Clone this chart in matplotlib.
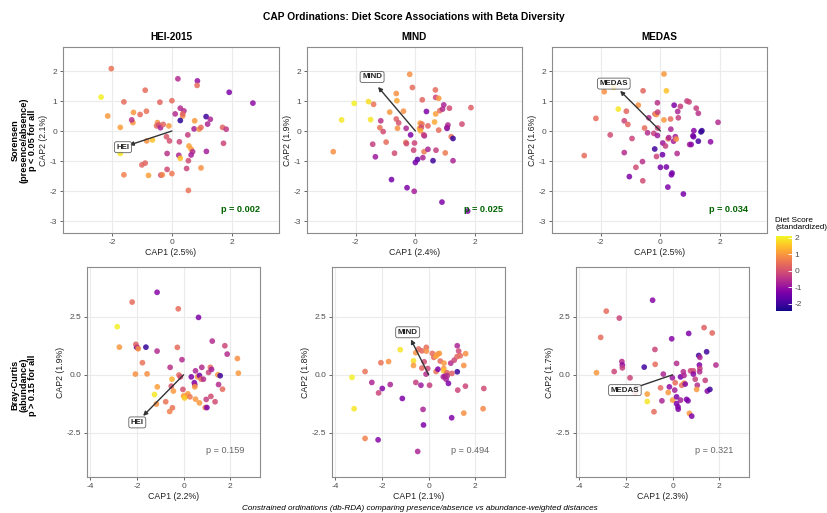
import matplotlib
matplotlib.use("Agg")
import matplotlib.pyplot as plt
from matplotlib.colors import Normalize
from matplotlib.cm import ScalarMappable

plt.rcParams['font.family'] = ['Liberation Sans', 'DejaVu Sans']
plt.rcParams['axes.unicode_minus'] = False

# ---- Sorensen (presence/absence) ----
sor_hei_x = [-2.02, -2.36, -2.14, -1.72, -1.72, -1.6, -1.28, -1.3, -1.34, -0.89, -0.85, -1.06, -0.84, -0.65,
             -1.6, -1.0, -0.89, -0.78, -0.4, -0.48, -0.51, -0.44, -0.38, -0.29, -0.1, -0.18, -0.08, 0.0,
             -0.16, -0.16, -0.37, -0.32, 0.0, 0.2, 0.11, 0.28, 0.4, 0.36, 0.36, 0.28, 0.76, 0.85, 0.84,
             0.25, 0.23, 0.28, 0.53, 0.57, 0.64, 0.69, 0.64, 0.55, 0.49, 0.55, 0.97, 0.74, 0.91, 0.97,
             1.14, 1.19, 1.28, 1.15, 1.69, 1.81, 1.72, 1.91, 2.7]
sor_hei_y = [2.08, 1.13, 0.5, 0.12, -0.75, 0.97, 0.62, 0.28, 0.37, 1.36, 0.66, 0.55, -0.33, -0.3,
             -1.46, -1.13, -1.07, -1.48, 0.96, 0.28, 0.17, 0.2, 0.11, 0.22, 0.17, -0.19, -0.33, 1.01,
             -0.75, -1.28, -1.47, -1.46, -1.42, 1.74, 0.57, 0.76, 0.67, 0.5, 0.57, 0.35, 0.34, 1.67, 1.52,
             -0.36, -0.81, -0.91, -0.13, -0.5, -0.6, -0.69, -0.8, -0.99, -1.25, -1.98, -1.23, 0.07, 0.06, 0.12,
             0.48, 0.23, 0.39, -0.68, 0.12, 0.06, -0.41, 1.29, 0.93]
sor_hei_score = [0.5, 2.0, 1.0, 1.1, 1.9, 0.4, 1.0, 1.0, -0.5, 0.4, 0.5, 0.4, 0.9, 1.5,
                 0.7, 0.3, 0.3, 1.1, 0.3, 0.9, 0.4, 0.0, -0.7, 0.3, 1.0, 0.1, 0.0, 0.4,
                 -0.5, -0.1, -0.1, 0.8, 0.6, -0.6, -0.6, -0.6, -0.6, 0.9, 0.3, -2.2, 1.0, -1.0, 0.4,
                 -0.2, -0.7, 1.5, -0.3, 1.1, 1.1, -0.6, -0.8, -0.1, -0.2, 0.5, 0.9, -0.8, 0.9, 0.4,
                 -2.0, -0.7, -0.7, -0.8, 0.3, -0.4, -0.2, -1.3, -1.1]

sor_mind_x = [-2.75, -2.47, -2.05, -1.57, -1.5, -1.4, -1.16, -1.19, -1.08, -1.43, -1.34, -0.98, -0.86, -0.64,
              -0.62, -0.64, -0.56, -0.6, -0.7, -0.4, -0.31, -0.32, -0.3, -0.1, -0.19, -0.16, -0.03, -0.06,
              0.07, 0.0, -0.8, -0.28, -0.04, 0.16, 0.14, 0.22, 0.2, 0.17, 0.3, 0.28, 0.23, 0.37, 0.42,
              0.29, 0.42, 0.25, 0.59, 0.67, 0.68, 0.78, 0.68, 0.64, 0.78, 0.69, 0.82, 0.91, 0.95, 1.14,
              1.09, 1.06, 1.06, 1.0, 1.2, 1.26, 1.26, 1.56, 1.86, 0.89, 1.75]
sor_mind_y = [-0.69, 0.37, 0.92, 0.98, 0.38, 0.89, 0.34, 0.11, -0.02, -0.44, -0.86, -0.37, 0.63, 1.25,
              1.01, 0.4, 0.27, 0.09, -0.74, 0.66, 0.09, -0.38, -0.42, 1.45, 1.89, -0.13, -0.4, -0.64,
              -0.95, -1.05, -1.62, -1.89, -2.01, 0.26, 0.09, 0.23, 0.12, 0.01, -0.16, -0.13, 1.04, 0.65, 0.17,
              -0.69, -0.61, -0.89, -0.99, 1.37, 1.12, 1.09, 0.57, 0.3, 0.03, -0.64, 0.68, 0.73, 0.87, 0.76,
              0.2, 0.09, 0.12, -0.73, -0.19, -0.25, -0.99, 0.23, 0.78, -2.37, -2.67]
sor_mind_score = [0.9, 1.9, 2.0, 1.8, 1.9, 0.5, -0.5, 0.5, -0.1, -0.3, -0.9, 0.4, 1.0, 0.9,
                  1.2, 0.2, 0.0, 0.9, -0.1, 0.9, -0.7, 0.6, -0.1, 0.4, 0.9, -1.3, -0.2, -0.2,
                  -1.7, -1.4, -1.4, -1.3, -0.8, 1.0, 1.1, 0.5, -0.1, 1.2, -0.7, -0.3, 0.3, -1.3, 0.3,
                  0.6, -0.7, -0.7, -2.0, 0.4, -0.2, 1.0, 1.1, 1.2, 0.4, -0.3, 0.4, -0.6, -0.7, -0.1,
                  -0.6, -1.6, -0.8, 0.6, 0.5, -2.1, -0.7, -0.1, 0.2, -1.3, -1.3]

sor_medas_x = [-2.55, -2.16, -1.88, -1.56, -1.41, -1.68, -1.21, -1.14, -1.09, -0.95, -1.21, -0.82, -1.04, -0.59,
               -0.6, -0.58, -0.74, -0.39, -0.53, -0.43, -0.22, -0.1, -0.18, -0.13, -0.09, -0.09, -0.1, -0.19,
               -0.13, 0.0, 0.07, 0.12, 0.2, 0.12, 0.08, 0.17, 0.26, 0.28, 0.34, 0.35, 0.2, 0.39, 0.37,
               0.25, 0.46, 0.44, 0.5, 0.53, 0.58, 0.6, 0.56, 0.67, 0.77, 0.89, 0.96, 0.98, 1.03, 1.09,
               1.12, 1.2, 1.27, 1.27, 1.36, 1.39, 1.68, 1.93, 1.11]
sor_medas_y = [-0.82, 0.42, 1.31, 1.46, 0.73, -0.13, 0.34, 0.66, 0.22, -0.25, -0.72, -1.21, -1.52, -1.66,
               -1.02, 1.34, 0.86, 0.44, 0.1, -0.06, -0.08, 0.94, 0.57, 0.55, 0.63, 0.1, -0.15, -0.6,
               -0.85, -1.21, -0.79, 1.9, 1.34, 0.37, -0.4, -0.5, -0.26, -0.22, 0.4, 0.06, -1.2, -1.4, -1.46,
               -1.87, 0.86, -0.34, -0.19, -0.27, 0.65, 0.44, -0.75, 0.82, -2.1, 1.0, 0.97, -0.45, -0.45, -0.16,
               0.01, 0.76, 0.59, -0.34, -0.03, 0.01, -0.36, 0.29, -0.19]
sor_medas_score = [0.4, 0.4, 0.9, 1.6, 1.9, -0.1, -0.2, 0.3, 0.3, -0.2, -0.6, -0.1, -1.3, -0.1,
                   -0.5, 0.3, 0.9, -0.6, 0.4, -0.6, -0.3, -0.5, 0.3, 0.9, -0.3, -0.2, -0.9, -2.0,
                   -0.2, -1.4, -1.5, 1.0, 1.5, 1.0, -0.9, -0.3, 0.4, -0.7, 0.4, -0.7, -1.4, -1.4, -1.4,
                   -1.3, -1.3, -0.8, -0.8, 0.9, -0.7, -0.3, -0.6, -0.3, -1.4, -0.3, -0.2, -0.7, -1.2, -1.3,
                   -1.2, -0.3, -0.5, -1.9, -2.2, -2.1, -1.1, -0.6, -1.5]

# ---- Bray-Curtis (abundance) ----
bc_hei_x = [-1.14, -2.21, -0.23, 0.64, -2.85, -2.76, -2.02, -1.62, -2.05, -1.98, -1.95, -1.14, -1.77, -2.07,
            -1.57, -1.13, -1.25, -1.17, -0.27, -0.07, -0.58, -0.2, -0.14, -0.5, -0.53, -0.44, -0.77, -0.48,
            -0.6, -0.03, 0.0, 0.11, 0.04, 0.18, 0.27, 0.33, 0.51, 0.46, 0.48, 0.48, 0.6, 0.68, 0.78,
            0.75, 0.85, 0.51, 0.68, 0.93, 1.0, 0.97, 1.07, 1.15, 1.2, 1.23, 1.17, 1.35, 1.47, 1.57,
            1.5, 1.67, 1.77, 1.87, 2.31, 2.35]
bc_hei_y = [3.55, 3.13, 2.84, 2.47, 2.07, 1.19, 1.19, 1.19, 1.31, 1.16, 1.12, 1.02, 0.52, 0.03,
            0.04, -0.52, -0.85, -1.26, 1.18, 0.65, 0.32, -0.01, -0.09, -0.19, -0.49, -0.7, -1.16, -1.42,
            -1.58, -0.63, -0.91, -0.92, -1.0, -0.82, -0.95, -0.09, 0.17, -0.34, -0.43, -0.52, -0.09, -0.03, 0.32,
            -0.19, -0.19, -1.05, -1.21, -1.41, -1.41, -1.06, 0.1, 0.32, 0.23, 1.45, -0.93, -1.16, 0.0, -0.04,
            -0.42, -0.62, 1.25, 0.89, 0.7, 0.07]
bc_hei_score = [-1.2, 0.4, 0.4, -1.3, 2.0, 1.0, -2.0, -2.1, 0.2, -0.5, 0.9, -0.6, 0.5, 0.9,
                0.9, 1.1, 1.9, 0.9, 0.4, -0.6, -0.5, 0.4, -0.1, 1.3, 0.0, 1.0, 0.5, 0.5,
                0.7, 0.0, 1.0, 1.3, 1.6, 1.0, 0.6, -1.3, -0.7, -1.3, -0.8, 1.0, 1.0, -1.4, -0.6,
                0.5, -0.6, 1.0, 1.0, 0.5, -1.3, -0.3, -0.2, 0.4, -0.8, -0.6, -0.1, -0.1, 1.0, -2.0,
                -0.6, 0.4, -0.2, -0.6, 0.9, 1.0]

bc_mind_x = [-3.29, -3.2, -2.73, -2.73, -2.44, -2.15, -2.17, -2.05, -1.99, -1.72, -1.65, -1.22, -1.13, -0.65,
             -0.65, -0.55, -0.43, -0.29, -0.55, -0.33, -0.29, -0.19, -0.1, -0.1, -0.04, -0.11, 0.04, -0.24,
             -0.22, -0.47, 0.16, 0.22, 0.32, 0.39, 0.46, 0.32, 0.4, 0.5, 0.66, 0.65, 0.65, 0.7, 0.75,
             0.79, 0.8, 0.85, 0.95, 1.1, 1.23, 1.29, 1.22, 1.36, 1.59, 1.51, 1.23, 1.25, 1.58, 0.99,
             1.51, 2.34, 2.37, 0.63, 1.0]
bc_mind_y = [-0.11, -1.46, 0.14, -2.74, -0.33, -0.78, -2.8, 0.52, -0.59, 0.57, -0.42, 1.08, -1.02, 0.6,
             0.4, 0.95, 1.11, 1.03, -0.33, -0.45, 0.29, 0.56, 1.18, 1.02, 0.27, 0.03, -0.45, -1.49,
             -2.16, -3.3, 0.92, 0.75, 0.8, 0.89, 0.92, 0.14, 0.24, 0.59, 0.5, 0.27, 0.17, -0.06, -0.19,
             0.09, -0.04, -0.37, 0.5, 0.63, 1.25, 1.02, 0.78, 0.82, 0.91, 0.4, 0.13, -0.66, -0.49, -1.85,
             -1.65, -1.46, -0.59, -0.09, 0.06]
bc_mind_score = [2.0, 1.9, 0.5, 0.7, -0.7, -0.2, -1.2, 0.5, -1.2, 0.9, -0.7, 1.9, -1.3, 1.8,
                 1.0, 0.9, 0.4, 0.3, -0.3, -0.9, 0.3, -0.1, 0.4, 0.9, -0.2, -0.6, -0.3, -0.7,
                 -1.3, -0.7, 0.4, 0.4, 1.2, 1.0, 1.0, 0.5, -1.3, 0.4, 1.0, 1.0, 1.5, -1.7, -0.8,
                 0.3, -0.6, -1.3, -0.6, -0.2, -0.7, -0.1, 0.3, 0.4, 0.9, 0.9, -2.1, -0.2, -0.2, -1.3,
                 0.9, 0.8, -0.1, -0.7, 0.2]

bc_medas_x = [-3.27, -3.09, -2.85, -2.29, -2.51, -2.18, -2.16, -2.16, -1.83, -1.6, -1.22, -0.86, -0.76, -0.75,
              -0.8, -1.09, -1.09, -0.52, -0.46, -0.4, -0.14, -0.19, -0.04, -0.01, 0.0, 0.11, 0.09, 0.17,
              0.17, 0.23, 0.24, 0.17, 0.34, 0.39, 0.34, 0.46, 0.49, 0.49, 0.54, 0.6, 0.66, 0.72, 0.82,
              0.69, 0.77, 0.89, 0.89, 0.97, 1.06, 1.03, 1.12, 1.15, 1.17, 1.17, 1.16, 1.35, 1.4, 1.46,
              1.49, 1.6, 1.7, 1.86]
bc_medas_y = [0.09, 1.61, 2.74, 2.44, 0.14, 0.57, 0.42, 0.3, -0.13, -0.79, 0.33, 3.21, 1.09, 0.45,
              -1.59, -0.83, -1.15, -0.56, -1.12, 0.03, -0.52, -0.76, 1.55, -0.13, -1.09, -0.34, -0.66, -0.95,
              -1.24, -1.38, -1.48, 0.49, -0.09, -0.45, -1.09, 0.13, -0.03, -0.36, -0.4, -1.06, -1.12, -1.66, -1.78,
              1.78, 0.17, 0.17, 0.03, -0.19, -0.45, -0.63, 0.83, 0.42, 0.75, 0.27, 0.13, 2.03, -0.24, 0.99,
              -0.7, -0.63, 1.8, 0.42]
bc_medas_score = [1.0, 0.4, 0.4, -0.2, -0.2, -0.6, -1.1, -0.3, -0.2, 0.3, -2.0, -1.2, -0.2, 0.4,
                  0.4, 1.1, 1.9, 0.4, -0.7, -0.7, -1.1, 1.0, -1.2, -0.9, 1.1, 0.4, -0.8, -1.3,
                  -1.3, -1.3, -1.3, -0.6, -1.4, 0.4, -0.8, -0.6, -0.7, 1.0, -1.2, -1.3, -1.3, 1.0, -1.3,
                  -1.3, -0.2, -0.1, -1.2, -0.3, -0.6, 1.0, -2.0, -1.3, -0.7, -0.3, -0.6, 0.2, -0.3, -2.0,
                  -1.2, -2.0, 0.3, -0.6]

# biplot arrows (end point) and label positions
sor_arrows = [(-1.42, -0.47), (-1.25, 1.47), (-1.35, 1.34)]
sor_labels = [(-1.63, -0.54), (-1.45, 1.8), (-1.56, 1.58)]
bc_arrows = [(-1.74, -1.77), (-0.76, 1.52), (-1.75, -0.6)]
bc_labels = [(-1.99, -2.05), (-0.9, 1.83), (-2.05, -0.66)]

arrow_names = ["HEI", "MIND", "MEDAS"]
col_titles = ["HEI-2015", "MIND", "MEDAS"]
sor_pvals = ["p = 0.002", "p = 0.025", "p = 0.034"]
bc_pvals = ["p = 0.159", "p = 0.494", "p = 0.321"]
sor_xlab = ["CAP1 (2.5%)", "CAP1 (2.4%)", "CAP1 (2.5%)"]
sor_ylab = ["CAP2 (2.1%)", "CAP2 (1.9%)", "CAP2 (1.6%)"]
bc_xlab = ["CAP1 (2.2%)", "CAP1 (2.1%)", "CAP1 (2.3%)"]
bc_ylab = ["CAP2 (1.9%)", "CAP2 (1.8%)", "CAP2 (1.7%)"]

W, H = 827, 513
fig = plt.figure(figsize=(W / 100, H / 100), dpi=100)
fig.patch.set_facecolor('white')

cmap = plt.get_cmap('plasma')
norm = Normalize(vmin=-2.45, vmax=2.1)


def px_axes(l, r, t, b):
    return fig.add_axes([l / W, 1 - b / H, (r - l) / W, (b - t) / H])


def style(ax):
    ax.set_facecolor('white')
    ax.grid(True, color='#EBEBEB', lw=0.8)
    ax.set_axisbelow(True)
    for s in ax.spines.values():
        s.set_color('#8C8C8C')
        s.set_linewidth(0.8)
    ax.tick_params(length=2.5, width=0.6, color='#4D4D4D', labelsize=6,
                   labelcolor='#4D4D4D', pad=1.5)


def panel(ax, xs, ys, zs, arrow, lab, name, pval, sig, xlab, ylab, px, py):
    ax.scatter(xs, ys, c=zs, cmap=cmap, norm=norm, s=17, alpha=0.85,
               edgecolors='none', zorder=2)
    ax.annotate('', xy=arrow, xytext=(0, 0), zorder=3,
                arrowprops=dict(arrowstyle='-|>', color='#333333', lw=1.0,
                                mutation_scale=6, shrinkA=0, shrinkB=0))
    ax.text(lab[0], lab[1], name, ha='center', va='center', fontsize=5.7,
            fontweight='bold', color='#222222', zorder=4,
            bbox=dict(boxstyle='round,pad=0.25', fc='white', ec='#444444',
                      lw=0.6, alpha=0.85))
    if sig:
        ax.text(px, py, pval, ha='right', va='center', fontsize=6.6,
                fontweight='bold', color='#006400')
    else:
        ax.text(px, py, pval, ha='right', va='center', fontsize=6.6,
                color='#666666')
    ax.set_xlabel(xlab, fontsize=6.3, color='#222222', labelpad=1.5)
    ax.set_ylabel(ylab, fontsize=6.3, color='#222222', labelpad=1.5)
    style(ax)


# top row: Sorensen
top_pos = [(63, 279), (307, 522), (552, 767)]
sor_data = [(sor_hei_x, sor_hei_y, sor_hei_score),
            (sor_mind_x, sor_mind_y, sor_mind_score),
            (sor_medas_x, sor_medas_y, sor_medas_score)]
for i, (l, r) in enumerate(top_pos):
    ax = px_axes(l, r, 47, 233)
    xs, ys, zs = sor_data[i]
    panel(ax, xs, ys, zs, sor_arrows[i], sor_labels[i], arrow_names[i],
          sor_pvals[i], True, sor_xlab[i], sor_ylab[i], 2.93, -2.6)
    ax.set_xlim(-3.63, 3.57)
    ax.set_ylim(-3.4, 2.8)
    ax.set_xticks([-2, 0, 2])
    ax.set_yticks([-3, -2, -1, 0, 1, 2])
    ax.set_title(col_titles[i], fontsize=7.2, fontweight='bold', pad=5)

# bottom row: Bray-Curtis
bot_pos = [(87, 260), (332, 505), (576, 749)]
bc_data = [(bc_hei_x, bc_hei_y, bc_hei_score),
           (bc_mind_x, bc_mind_y, bc_mind_score),
           (bc_medas_x, bc_medas_y, bc_medas_score)]
for i, (l, r) in enumerate(bot_pos):
    ax = px_axes(l, r, 267, 477)
    xs, ys, zs = bc_data[i]
    panel(ax, xs, ys, zs, bc_arrows[i], bc_labels[i], arrow_names[i],
          bc_pvals[i], False, bc_xlab[i], bc_ylab[i], 2.6, -3.25)
    ax.set_xlim(-4.15, 3.28)
    ax.set_ylim(-4.4, 4.64)
    ax.set_xticks([-4, -2, 0, 2])
    ax.set_yticks([-2.5, 0, 2.5])
    ax.set_yticklabels(['-2.5', '0.0', '2.5'])

# row labels
fig.text(24 / W, 1 - 140 / H, "Sorensen\n(presence/absence)\np < 0.05 for all",
         rotation=90, ha='center', va='center', fontsize=6.6, fontweight='bold',
         linespacing=0.95)
fig.text(24 / W, 1 - 385 / H, "Bray-Curtis\n(abundance)\np > 0.15 for all",
         rotation=90, ha='center', va='center', fontsize=6.6, fontweight='bold',
         linespacing=0.95)

# colour bar
cax = px_axes(776, 792, 236, 311)
cb = fig.colorbar(ScalarMappable(norm=norm, cmap=cmap), cax=cax)
cb.set_ticks([-2, -1, 0, 1, 2])
cb.outline.set_visible(False)
cb.ax.tick_params(length=3, width=0.6, color='white', direction='in',
                  labelsize=6, labelcolor='#4D4D4D', pad=2)
fig.text(775 / W, 1 - 224 / H, "Diet Score\n(standardized)", ha='left',
         va='center', fontsize=5.9, linespacing=1.1)

fig.text(0.5, 1 - 17 / H, "CAP Ordinations: Diet Score Associations with Beta Diversity",
         ha='center', va='center', fontsize=7.4, fontweight='bold')
fig.text(420 / W, 1 - 508 / H,
         "Constrained ordinations (db-RDA) comparing presence/absence vs abundance-weighted distances",
         ha='center', va='center', fontsize=5.9, style='italic')

fig.savefig("out.png", dpi=100, facecolor='white')
